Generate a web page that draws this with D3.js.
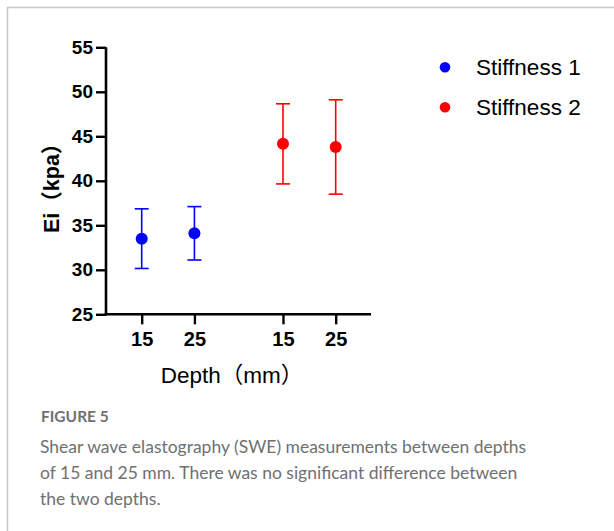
<!DOCTYPE html>
<html>
<head>
<meta charset="utf-8">
<script src="https://cdn.jsdelivr.net/npm/d3@7"></script>
<style>
  body { margin: 0; background: #fff; }
  svg { display: block; }
</style>
</head>
<body>
<div id="chart"></div>
<script>
// Data
const groups = ['Stiffness 1', 'Stiffness 2'];
const depthLabels = ['15', '25', '15', '25'];
const pointGroup = [0, 0, 1, 1];
const means = [33.5, 34.1, 44.15, 43.8];
const errors = [3.35, 3.0, 4.5, 5.3];
const yTicks = [25, 30, 35, 40, 45, 50, 55];
const colors = ['#0000ff', '#ff0000'];

const width = 614;
const height = 531;

const svg = d3.select('#chart')
    .append('svg')
    .attr('width', width)
    .attr('height', height);

// Frame lines (top and left)
svg.append('line')
    .attr('x1', 7).attr('y1', 7.5).attr('x2', width).attr('y2', 7.5)
    .attr('stroke', '#c8c8c8').attr('stroke-width', 1.5);
svg.append('line')
    .attr('x1', 7.5).attr('y1', 7).attr('x2', 7.5).attr('y2', height)
    .attr('stroke', '#c8c8c8').attr('stroke-width', 1.5);

// Plot area
const plotLeft = 106, plotRight = 371, plotTop = 47.3, plotBottom = 314.3;

const y = d3.scaleLinear().domain([25, 55]).range([plotBottom, plotTop]);
// Positions along the categorical axis (gap between groups)
const slots = [0, 1, 2.68, 3.68];
const x = d3.scaleLinear().domain([0, 3.68]).range([141.7, 335.7]);

const g = svg.append('g');

// Y axis
const yAxis = g.append('g')
    .attr('transform', `translate(${plotLeft},0)`)
    .call(d3.axisLeft(y).tickValues(yTicks).tickSize(10).tickPadding(3).tickSizeOuter(0));
yAxis.select('.domain').attr('stroke-width', 2.6).attr('d', `M0,${plotTop}V${plotBottom + 1.3}`);
yAxis.selectAll('.tick line').attr('stroke-width', 2.4);
yAxis.selectAll('.tick text')
    .attr('font-family', 'Liberation Sans, Arial, sans-serif')
    .attr('font-weight', 'bold')
    .attr('font-size', 19)
    .attr('fill', '#000');

// X axis
const xAxis = g.append('g')
    .attr('transform', `translate(0,${plotBottom})`)
    .call(d3.axisBottom(x).tickValues(slots).tickFormat((d, i) => depthLabels[i])
        .tickSize(10).tickPadding(8).tickSizeOuter(0));
xAxis.select('.domain').attr('stroke-width', 2.6).attr('d', `M${plotLeft - 1.3},0H${plotRight}`);
xAxis.selectAll('.tick line').attr('stroke-width', 2.4);
xAxis.selectAll('.tick text')
    .attr('font-family', 'Liberation Sans, Arial, sans-serif')
    .attr('font-weight', 'bold')
    .attr('font-size', 20)
    .attr('fill', '#000');

// Axis titles
svg.append('text')
    .attr('transform', `translate(59,${y(40) + 2}) rotate(-90)`)
    .attr('text-anchor', 'middle')
    .attr('font-family', 'Liberation Sans, Arial, "Noto Sans CJK SC", sans-serif')
    .attr('font-weight', 'bold')
    .attr('font-size', 21.5)
    .text('Ei（kpa）');

svg.append('text')
    .attr('x', 232)
    .attr('y', 383)
    .attr('text-anchor', 'middle')
    .attr('font-family', 'Liberation Sans, Arial, "Noto Sans CJK SC", sans-serif')
    .attr('font-size', 22.5)
    .text('Depth（mm）');

// Error bars and points
const pts = means.map((m, i) => ({ m, e: errors[i], s: slots[i], grp: pointGroup[i] }));
const marks = g.append('g').selectAll('g.pt').data(pts).enter().append('g');

marks.append('line')
    .attr('x1', d => x(d.s)).attr('x2', d => x(d.s))
    .attr('y1', d => y(d.m - d.e)).attr('y2', d => y(d.m + d.e))
    .attr('stroke', d => colors[d.grp]).attr('stroke-width', 1.6);
[-1, 1].forEach(sign => {
    marks.append('line')
        .attr('x1', d => x(d.s) - 7).attr('x2', d => x(d.s) + 7)
        .attr('y1', d => y(d.m + sign * d.e)).attr('y2', d => y(d.m + sign * d.e))
        .attr('stroke', d => colors[d.grp]).attr('stroke-width', 1.6);
});
marks.append('circle')
    .attr('cx', d => x(d.s)).attr('cy', d => y(d.m))
    .attr('r', 6)
    .attr('fill', d => colors[d.grp]);

// Legend
const legend = svg.append('g').selectAll('g').data(groups).enter().append('g')
    .attr('transform', (d, i) => `translate(445,${67.3 + i * 40})`);
legend.append('circle').attr('r', 5.3).attr('fill', (d, i) => colors[i]);
legend.append('text')
    .attr('x', 31).attr('y', 8)
    .attr('font-family', 'Liberation Sans, Arial, sans-serif')
    .attr('font-size', 22.5)
    .text(d => d);

// Caption
const caption = [
    'Shear wave elastography (SWE) measurements between depths',
    'of 15 and 25 mm. There was no significant difference between',
    'the two depths.'
];
svg.append('text')
    .attr('x', 41).attr('y', 422)
    .attr('font-family', 'Lato, sans-serif')
    .attr('font-weight', 'bold')
    .attr('font-size', 15.5)
    .attr('fill', '#707070')
    .text('FIGURE 5');
svg.append('g').selectAll('text').data(caption).enter().append('text')
    .attr('x', 40)
    .attr('y', (d, i) => 453 + i * 26)
    .attr('font-family', 'Lato, sans-serif')
    .attr('font-size', 17.5)
    .attr('fill', '#707070')
    .text(d => d);
</script>
</body>
</html>
